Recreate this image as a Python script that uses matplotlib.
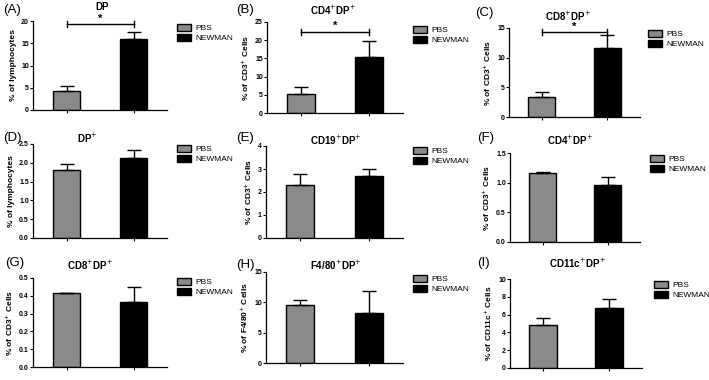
import matplotlib
matplotlib.use("Agg")
import matplotlib.pyplot as plt

plt.rcParams['font.family'] = ['Liberation Sans', 'DejaVu Sans']
plt.rcParams['mathtext.fontset'] = 'dejavusans'

groups = ["PBS", "NEWMAN"]
letters = ["(A)", "(B)", "(C)", "(D)", "(E)", "(F)", "(G)", "(H)", "(I)"]
titles = ["DP", r"CD4$^{+}$DP$^{+}$", r"CD8$^{+}$DP$^{+}$",
          r"DP$^{+}$", r"CD19$^{+}$DP$^{+}$", r"CD4$^{+}$DP$^{+}$",
          r"CD8$^{+}$DP$^{+}$", r"F4/80$^{+}$DP$^{+}$", r"CD11c$^{+}$DP$^{+}$"]
ylabels = ["% of lymphocytes", r"% of CD3$^{+}$ Cells", r"% of CD3$^{+}$ Cells",
           "% of lymphocytes", r"% of CD3$^{+}$ Cells", r"% of CD3$^{+}$ Cells",
           r"% of CD3$^{+}$ Cells", r"% of F4/80$^{+}$ Cells", r"% of CD11c$^{+}$ Cells"]
pbs_mean = [4.3, 5.1, 3.4, 1.80, 2.3, 1.17, 0.415, 9.6, 4.8]
pbs_err = [1.0, 2.1, 0.8, 0.17, 0.5, 0.01, 0.003, 0.8, 0.8]
newman_mean = [16.0, 15.4, 11.6, 2.12, 2.7, 0.96, 0.365, 8.2, 6.7]
newman_err = [1.5, 4.5, 2.3, 0.22, 0.3, 0.13, 0.085, 3.6, 1.1]
ymax = [20, 25, 15, 2.5, 4, 1.5, 0.5, 15, 10]
ystep = [5, 5, 5, 0.5, 1, 0.5, 0.1, 5, 2]
tickfmt = ["%d", "%d", "%d", "%.1f", "%d", "%.1f", "%.1f", "%d", "%d"]
signif = [19.3, 22.3, 14.3, None, None, None, None, None, None]

W, H = 709, 380
# axes boxes in pixels: left, top, right, bottom
boxes = [(33, 21, 167, 110), (267, 22, 403, 113), (509, 28, 640, 117),
         (33, 144, 167, 238), (266, 146, 403, 238), (510, 153, 640, 242),
         (33, 278, 167, 367), (266, 272, 403, 363), (510, 279, 642, 368)]
# pixel positions of panel letters, titles and legends
letter_xy = [(3, 10), (236, 10), (475, 13), (3, 138), (236, 138), (477, 138),
             (5, 263), (236, 265), (477, 263)]
title_xy = [(102, 7), (333, 10), (568, 16), (87, 138), (336, 140), (570, 140),
            (90, 265), (336, 265), (577, 263)]
legend_xy = [(175, 22), (411, 24), (646, 28), (175, 143), (411, 145), (648, 153),
             (175, 276), (411, 273), (652, 279)]

fig = plt.figure(figsize=(W / 100, H / 100), dpi=100)

for i in range(9):
    l, t, r, b = boxes[i]
    ax = fig.add_axes([l / W, 1 - b / H, (r - l) / W, (b - t) / H])
    bars = ax.bar([0, 1], [pbs_mean[i], newman_mean[i]], width=0.41,
                  color=["#8a8a8a", "black"], edgecolor="black", linewidth=1.0)
    ax.errorbar([0, 1], [pbs_mean[i], newman_mean[i]],
                yerr=[[0, 0], [pbs_err[i], newman_err[i]]],
                fmt="none", ecolor="black", elinewidth=1.0, capsize=5, capthick=1.0)
    ax.set_xlim(-0.5, 1.5)
    ax.set_ylim(0, ymax[i])
    n = int(round(ymax[i] / ystep[i]))
    ticks = [k * ystep[i] for k in range(n + 1)]
    ax.set_yticks(ticks)
    ax.set_yticklabels([tickfmt[i] % v for v in ticks], fontsize=5, fontweight="bold")
    ax.set_xticks([0, 1])
    ax.set_xticklabels([])
    ax.tick_params(axis="both", length=2, width=0.8, pad=1)
    for s in ["top", "right"]:
        ax.spines[s].set_visible(False)
    ax.spines["left"].set_linewidth(0.9)
    ax.spines["bottom"].set_linewidth(0.9)
    ax.set_ylabel(ylabels[i], fontsize=6, fontweight="bold", labelpad=3)
    if signif[i] is not None:
        y = signif[i]
        c = ymax[i] * 0.03
        ax.plot([0, 1], [y, y], color="black", lw=1.0, clip_on=False)
        ax.plot([0, 0], [y - c, y + c], color="black", lw=1.0, clip_on=False)
        ax.plot([1, 1], [y - c, y + c], color="black", lw=1.0, clip_on=False)
        ax.text(0.5, y + c * 0.2, "*", ha="center", va="bottom", fontsize=8,
                fontweight="bold")
    lx, ly = legend_xy[i]
    fig.legend(bars, groups, loc="upper left", bbox_to_anchor=(lx / W, 1 - ly / H),
               frameon=False, fontsize=6, handlelength=1.7, handleheight=0.9,
               handletextpad=0.5, labelspacing=0.2, borderaxespad=0,
               borderpad=0.2)
    tx, ty = title_xy[i]
    fig.text(tx / W, 1 - ty / H, titles[i], fontsize=7, fontweight="bold",
             ha="center", va="center")
    px, py = letter_xy[i]
    fig.text(px / W, 1 - py / H, letters[i], fontsize=9.5, ha="left", va="center")

fig.savefig("out.png", dpi=100)
